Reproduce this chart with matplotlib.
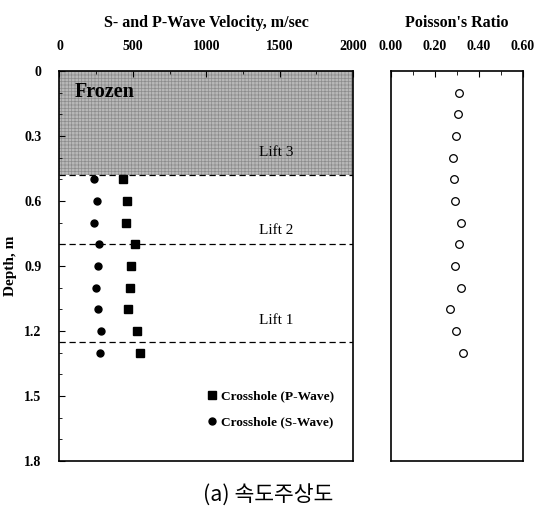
import numpy as np
import matplotlib
matplotlib.use("Agg")
import matplotlib.pyplot as plt
from matplotlib.ticker import MultipleLocator

plt.rcParams['font.family'] = ['Liberation Serif', 'DejaVu Serif']
plt.rcParams['hatch.linewidth'] = 0.5

# crosshole measurements (depth in m, velocity in m/sec)
vel_depth = [0.5, 0.6, 0.7, 0.8, 0.9, 1.0, 1.1, 1.2, 1.3]
vp = [431, 460, 455, 517, 487, 478, 467, 526, 551]
vs = [235, 253, 235, 267, 260, 247, 260, 281, 274]

# Poisson's ratio profile
nu_depth = [0.1, 0.2, 0.3, 0.4, 0.5, 0.6, 0.7, 0.8, 0.9, 1.0, 1.1, 1.2, 1.3]
nu = [0.310, 0.303, 0.294, 0.280, 0.288, 0.291, 0.317, 0.309, 0.290, 0.320, 0.270, 0.294, 0.329]

# layer boundaries
frozen_bottom = 0.48
lift_bounds = [0.48, 0.80, 1.25]
lift_names = ["Lift 3", "Lift 2", "Lift 1"]
lift_label_depth = [0.375, 0.735, 1.152]

fig = plt.figure(figsize=(5.34, 5.15), dpi=100)
ax = fig.add_axes([0.1114, 0.1049, 0.5496, 0.7573])
ax2 = fig.add_axes([0.7322, 0.1049, 0.2472, 0.7573])

bold = dict(fontweight='bold')

# ---- velocity profile ----
ax.fill_between([0, 2000], 0, frozen_bottom, facecolor='#b8b8b8',
                edgecolor='#8c8c8c', hatch='+++++', linewidth=0, zorder=0)
for d in lift_bounds:
    ax.axhline(d, color='black', lw=0.9, ls=(0, (5, 3)), zorder=1)
for name, d in zip(lift_names, lift_label_depth):
    ax.text(1475, d, name, fontsize=11, ha='center', va='center')
ax.text(105, 0.095, "Frozen", fontsize=14.5, fontweight='heavy', ha='left', va='center')

ax.plot(vp, vel_depth, 's', color='black', ms=6, label='Crosshole (P-Wave)', zorder=3)
ax.plot(vs, vel_depth, 'o', color='black', ms=5, label='Crosshole (S-Wave)', zorder=3)

ax.set_xlim(0, 2000)
ax.set_ylim(1.8, 0)
ax.xaxis.set_major_locator(MultipleLocator(500))
ax.xaxis.set_minor_locator(MultipleLocator(250))
ax.yaxis.set_major_locator(MultipleLocator(0.3))
ax.yaxis.set_minor_locator(MultipleLocator(0.1))
ax.yaxis.set_major_formatter(matplotlib.ticker.FuncFormatter(
    lambda v, p: "0" if v == 0 else f"{v:.1f}"))
ax.xaxis.tick_top()
ax.xaxis.set_label_position('top')
ax.tick_params(which='both', direction='in', labelsize=10)
ax.tick_params(which='major', length=4, pad=13)
ax.tick_params(which='minor', length=2)
for lbl in ax.get_xticklabels() + ax.get_yticklabels():
    lbl.set_fontweight('bold')
ax.set_xlabel("S- and P-Wave Velocity, m/sec", fontsize=11.5, labelpad=9, **bold)
ax.set_ylabel("Depth, m", fontsize=11, labelpad=5, **bold)
for s in ax.spines.values():
    s.set_linewidth(1.2)

leg = ax.legend(loc='lower right', bbox_to_anchor=(0.977, 0.052), frameon=False,
                handlelength=0.7, handletextpad=0.3, labelspacing=1.05,
                prop={'weight': 'bold', 'size': 9.6})

# ---- Poisson's ratio ----
ax2.plot(nu, nu_depth, 'o', mfc='white', mec='black', mew=0.9, ms=5.5)
ax2.set_xlim(0, 0.6)
ax2.set_ylim(1.8, 0)
ax2.set_xticks([0, 0.2, 0.4, 0.6])
ax2.set_xticks([0.1, 0.3, 0.5], minor=True)
ax2.xaxis.set_major_formatter(matplotlib.ticker.FormatStrFormatter('%.2f'))
ax2.set_yticks([])
ax2.xaxis.tick_top()
ax2.xaxis.set_label_position('top')
ax2.tick_params(which='both', direction='in', labelsize=10)
ax2.tick_params(which='major', length=4, pad=13)
ax2.tick_params(which='minor', length=3)
for lbl in ax2.get_xticklabels():
    lbl.set_fontweight('bold')
ax2.set_xlabel("Poisson's Ratio", fontsize=11.5, labelpad=9, **bold)
for s in ax2.spines.values():
    s.set_linewidth(1.2)

fig.text(0.502, 0.039, "(a) 속도주상도", fontsize=15.5, ha='center', va='center',
         family=['Noto Sans CJK KR', 'DejaVu Sans'])

fig.savefig("out.png", dpi=100)
